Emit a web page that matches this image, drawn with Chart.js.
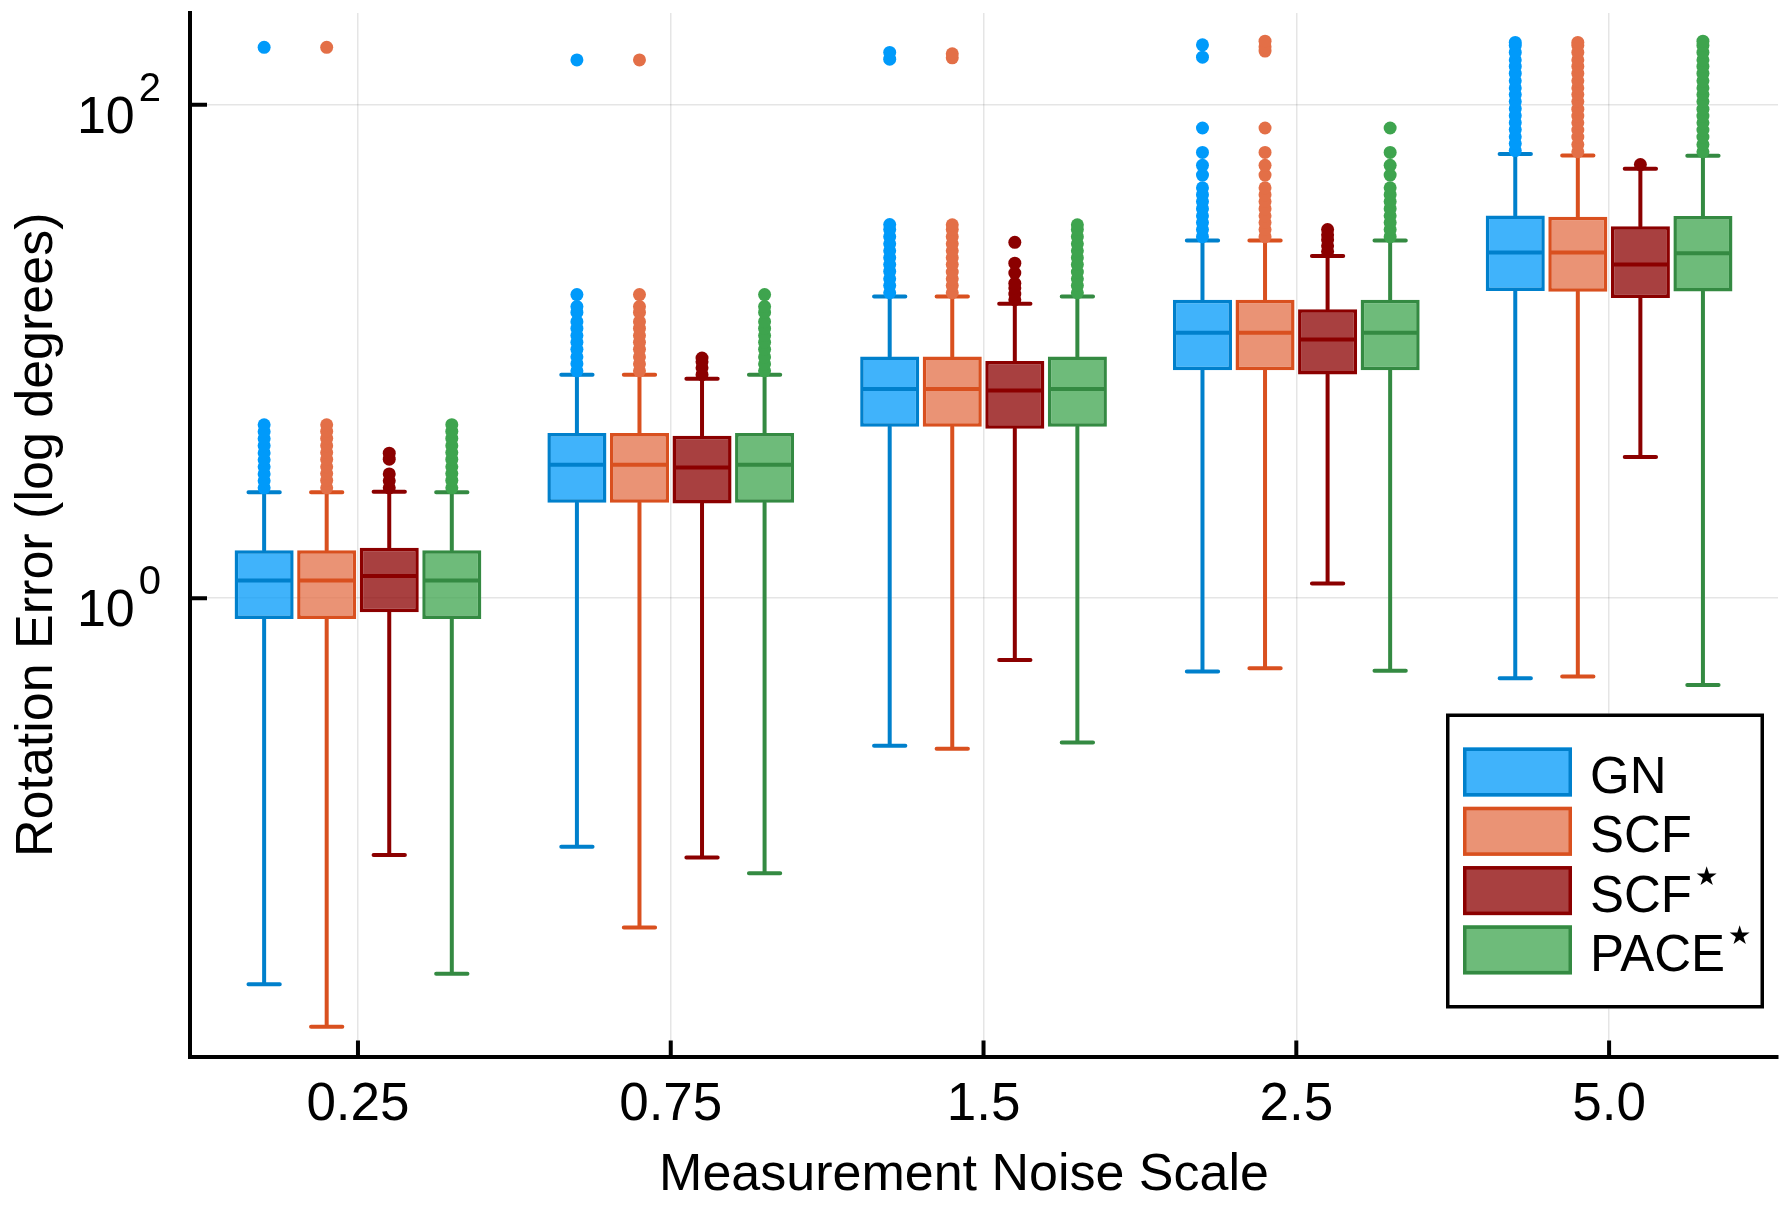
<!DOCTYPE html>
<html lang="en">
<head>
    <meta charset="UTF-8">
    <title>Rotation Error vs Measurement Noise Scale</title>
    <script src="https://cdn.jsdelivr.net/npm/chart.js@4.4.1/dist/chart.umd.min.js"></script>
    <style>
        body { margin: 0; background: #fff; }
        canvas { display: block; }
    </style>
</head>
<body>
    <canvas id="chartRotacion" width="1790" height="1208"></canvas>

    <script>
        // Categorias (eje x) y ticks del eje y
        const noiseScales = ['0.25', '0.75', '1.5', '2.5', '5.0'];
        const xPos = [1, 2, 3, 4, 5];
        const yTicks = [1, 100];
        const methodLabels = ['GN', 'SCF', 'SCF★', 'PACE★'];
        const xTitle = 'Measurement Noise Scale';

        // GN
        const gnLow  = [0.0272, 0.0983, 0.252, 0.504, 0.473];
        const gnQ1   = [0.824, 2.435, 4.95, 8.39, 17.58];
        const gnMed  = [1.18, 3.47, 7.05, 11.9, 25.2];
        const gnQ3   = [1.563, 4.67, 9.55, 16.2, 35.6];
        const gnHigh = [2.69, 8.05, 16.7, 28.2, 63.2];
        const gnOut = [
            [2.80, 2.99, 3.19, 3.41, 3.64, 3.88, 4.15, 4.43, 4.73, 5.04, 171],
            [8.35, 8.92, 9.52, 10.2, 10.9, 11.6, 12.4, 13.2, 14.4, 15.2, 17.0, 152],
            [17.3, 18.5, 19.7, 21.1, 22.5, 24.0, 25.6, 27.3, 29.2, 31.2, 32.7, 153, 163],
            [29.2, 31.2, 33.3, 35.5, 37.9, 40.5, 43.2, 46.1, 51.9, 56.8, 64.1, 80.5, 156, 175],
            [65.2, 69.6, 74.2, 79.3, 84.6, 90.3, 96.4, 103, 110, 117, 125, 134, 143, 152, 163, 174, 179]
        ];

        // SCF
        const scfLow  = [0.0183, 0.0462, 0.245, 0.52, 0.481];
        const scfQ1   = [0.824, 2.435, 4.95, 8.39, 17.46];
        const scfMed  = [1.18, 3.47, 7.05, 11.9, 25.2];
        const scfQ3   = [1.563, 4.67, 9.55, 16.2, 35.2];
        const scfHigh = [2.69, 8.05, 16.7, 28.2, 62.3];
        const scfOut = [
            [2.80, 3.00, 3.20, 3.41, 3.65, 3.89, 4.15, 4.44, 4.74, 5.04, 171],
            [8.35, 8.9, 9.5, 10.2, 10.9, 11.6, 12.4, 13.2, 14.4, 15.2, 17.0, 152],
            [17.3, 18.5, 19.7, 21.0, 22.5, 24.0, 25.6, 27.3, 29.2, 31.2, 32.6, 155, 161],
            [29.2, 31.2, 33.3, 35.5, 37.9, 40.5, 43.2, 46.1, 51.9, 56.8, 64.1, 80.5, 165, 172, 181],
            [64.5, 69, 74, 79, 84.5, 90, 96, 103, 110, 117, 125, 134, 143, 152, 163, 174, 179]
        ];

        // SCF*
        const scfsLow  = [0.091, 0.0888, 0.562, 1.147, 3.73];
        const scfsQ1   = [0.877, 2.42, 4.86, 8.07, 16.48];
        const scfsMed  = [1.231, 3.386, 6.95, 11.17, 22.5];
        const scfsQ3   = [1.599, 4.55, 9.15, 14.83, 32.2];
        const scfsHigh = [2.70, 7.75, 15.6, 24.4, 55.0];
        const scfsOut = [
            [2.80, 2.99, 3.19, 3.66, 3.87],
            [8.05, 8.59, 9.08, 9.40],
            [16.2, 17.1, 18.1, 18.9, 20.8, 22.8, 27.7],
            [25.4, 26.8, 28.4, 29.7, 31.2],
            [57.2]
        ];

        // PACE*
        const paceLow  = [0.030, 0.0768, 0.260, 0.508, 0.445];
        const paceQ1   = [0.824, 2.435, 4.95, 8.39, 17.5];
        const paceMed  = [1.18, 3.47, 7.05, 11.9, 25.0];
        const paceQ3   = [1.563, 4.67, 9.55, 16.2, 35.4];
        const paceHigh = [2.69, 8.05, 16.7, 28.2, 62.2];
        const paceOut = [
            [2.80, 3.00, 3.20, 3.41, 3.65, 3.89, 4.15, 4.44, 4.74, 5.05],
            [8.35, 8.9, 9.5, 10.2, 10.9, 11.6, 12.4, 13.2, 14.4, 15.2, 17.0],
            [17.3, 18.5, 19.7, 21.0, 22.5, 24.0, 25.6, 27.3, 29.2, 31.2, 32.6],
            [29.2, 31.2, 33.3, 35.5, 37.9, 40.5, 43.2, 46.1, 51.9, 56.8, 64.1, 80.5],
            [64.5, 69, 74, 79, 84.5, 90, 96, 103, 110, 117, 125, 134, 143, 152, 163, 174, 181]
        ];

        const lows  = [gnLow, scfLow, scfsLow, paceLow];
        const q1s   = [gnQ1, scfQ1, scfsQ1, paceQ1];
        const meds  = [gnMed, scfMed, scfsMed, paceMed];
        const q3s   = [gnQ3, scfQ3, scfsQ3, paceQ3];
        const highs = [gnHigh, scfHigh, scfsHigh, paceHigh];
        const outs  = [gnOut, scfOut, scfsOut, paceOut];

        const fillColors   = ['rgba(0,154,250,0.75)', 'rgba(227,111,71,0.75)', 'rgba(139,0,0,0.75)', 'rgba(62,164,78,0.75)'];
        const lineColors   = ['#0080cc', '#d9501f', '#8b0000', '#348a42'];
        const markerColors = ['#009afa', '#e36f47', '#8b0000', '#3ea44e'];

        const FONT = "'Liberation Sans', Arial, sans-serif";
        Chart.defaults.font.family = FONT;
        Chart.defaults.color = '#000';

        // Bigotes, medianas, atipicos, ticks hacia dentro, etiquetas y leyenda
        const boxExtras = {
            id: 'boxExtras',
            beforeDatasetsDraw(chart) {
                const ctx = chart.ctx, ys = chart.scales.y;
                chart.data.datasets.forEach((ds, k) => {
                    chart.getDatasetMeta(k).data.forEach((bar, i) => {
                        const capW = bar.width * 0.53;
                        const yl = ys.getPixelForValue(lows[k][i]);
                        const yh = ys.getPixelForValue(highs[k][i]);
                        const y1 = ys.getPixelForValue(q1s[k][i]);
                        const y3 = ys.getPixelForValue(q3s[k][i]);
                        ctx.save();
                        ctx.strokeStyle = lineColors[k];
                        ctx.lineWidth = 4;
                        ctx.lineCap = 'round';
                        ctx.beginPath();
                        ctx.moveTo(bar.x, y1); ctx.lineTo(bar.x, yl);
                        ctx.moveTo(bar.x, y3); ctx.lineTo(bar.x, yh);
                        ctx.moveTo(bar.x - capW / 2, yl); ctx.lineTo(bar.x + capW / 2, yl);
                        ctx.moveTo(bar.x - capW / 2, yh); ctx.lineTo(bar.x + capW / 2, yh);
                        ctx.stroke();
                        ctx.restore();
                    });
                });
            },
            afterDatasetsDraw(chart) {
                const ctx = chart.ctx, ys = chart.scales.y;
                chart.data.datasets.forEach((ds, k) => {
                    chart.getDatasetMeta(k).data.forEach((bar, i) => {
                        const ym = ys.getPixelForValue(meds[k][i]);
                        ctx.save();
                        ctx.strokeStyle = lineColors[k];
                        ctx.lineWidth = 4;
                        ctx.beginPath();
                        ctx.moveTo(bar.x - bar.width / 2 + 2, ym);
                        ctx.lineTo(bar.x + bar.width / 2 - 2, ym);
                        ctx.stroke();
                        ctx.fillStyle = markerColors[k];
                        outs[k][i].forEach(v => {
                            ctx.beginPath();
                            ctx.arc(bar.x, ys.getPixelForValue(v), 6.5, 0, Math.PI * 2);
                            ctx.fill();
                        });
                        ctx.restore();
                    });
                });
            },
            afterDraw(chart) {
                const ctx = chart.ctx, area = chart.chartArea;
                const xs = chart.scales.x, ys = chart.scales.y;
                ctx.save();
                // ticks hacia dentro
                ctx.strokeStyle = '#000';
                ctx.lineWidth = 4;
                ctx.beginPath();
                xPos.forEach(v => {
                    const px = xs.getPixelForValue(v);
                    ctx.moveTo(px, area.bottom); ctx.lineTo(px, area.bottom - 16);
                });
                yTicks.forEach(v => {
                    const py = ys.getPixelForValue(v);
                    ctx.moveTo(area.left, py); ctx.lineTo(area.left + 17, py);
                });
                ctx.stroke();

                // etiquetas 10^n
                ctx.fillStyle = '#000';
                yTicks.forEach(v => {
                    const py = ys.getPixelForValue(v);
                    const exp = String(Math.round(Math.log10(v)));
                    ctx.font = '40px ' + FONT;
                    const ew = ctx.measureText(exp).width;
                    const right = area.left - 29;
                    ctx.textAlign = 'left';
                    ctx.textBaseline = 'alphabetic';
                    ctx.fillText(exp, right - ew, py - 4);
                    ctx.font = '52px ' + FONT;
                    ctx.textAlign = 'right';
                    ctx.fillText('10', right - ew - 4, py + 28);
                });

                // titulo del eje x
                ctx.font = '52px ' + FONT;
                ctx.textAlign = 'center';
                ctx.textBaseline = 'alphabetic';
                ctx.fillText(xTitle, (area.left + area.right) / 2 - 20, area.bottom + 133);

                // leyenda
                const lw = 318, lh = 295;
                const lx = area.right - 14 - lw, ly = area.bottom - 48 - lh;
                ctx.fillStyle = '#fff';
                ctx.fillRect(lx, ly, lw, lh);
                ctx.lineWidth = 3.5;
                ctx.strokeStyle = '#000';
                ctx.strokeRect(lx + 1.75, ly + 1.75, lw - 3.5, lh - 3.5);
                chart.data.datasets.forEach((ds, k) => {
                    const sy = ly + 34 + k * 59.3;
                    const sx = lx + 17;
                    ctx.fillStyle = '#fff';
                    ctx.fillRect(sx, sy, 109, 49);
                    ctx.fillStyle = fillColors[k];
                    ctx.fillRect(sx, sy, 109, 49);
                    ctx.strokeStyle = lineColors[k];
                    ctx.lineWidth = 3.5;
                    ctx.strokeRect(sx + 1.75, sy + 1.75, 109 - 3.5, 49 - 3.5);
                    const star = ds.label.endsWith('★');
                    const txt = star ? ds.label.slice(0, -1) : ds.label;
                    ctx.fillStyle = '#000';
                    ctx.font = '51px ' + FONT;
                    ctx.textAlign = 'left';
                    ctx.textBaseline = 'alphabetic';
                    const base = sy + 45.5;
                    ctx.fillText(txt, lx + 144, base);
                    if (star) {
                        const tw = ctx.measureText(txt).width;
                        ctx.font = "26px 'DejaVu Sans', sans-serif";
                        ctx.fillText('★', lx + 144 + tw + 3, base - 27);
                    }
                });
                ctx.restore();
            }
        };

        new Chart(document.getElementById('chartRotacion'), {
            type: 'bar',
            data: {
                datasets: methodLabels.map((m, k) => ({
                    label: m,
                    data: xPos.map((x, i) => ({ x: x, y: [q1s[k][i], q3s[k][i]] })),
                    backgroundColor: fillColors[k],
                    borderColor: lineColors[k],
                    borderWidth: 3.5,
                    borderSkipped: false,
                    categoryPercentage: 0.8,
                    barPercentage: 0.944
                }))
            },
            options: {
                responsive: false,
                devicePixelRatio: 1,
                animation: false,
                layout: { padding: { top: 13, right: 12, bottom: 0, left: 0 } },
                plugins: {
                    legend: { display: false },
                    tooltip: { enabled: false }
                },
                scales: {
                    x: {
                        type: 'linear',
                        offset: false,
                        min: 0.463,
                        max: 5.54,
                        afterBuildTicks: axis => { axis.ticks = xPos.map(v => ({ value: v })); },
                        afterFit: axis => { axis.height = 151.5; },
                        grid: { offset: false, color: 'rgba(0,0,0,0.1)', lineWidth: 1.5, drawTicks: false },
                        border: { color: '#000', width: 4 },
                        ticks: {
                            padding: 17,
                            font: { size: 53 },
                            callback: v => noiseScales[xPos.indexOf(v)]
                        },
                        title: { display: false }
                    },
                    y: {
                        type: 'logarithmic',
                        min: 0.01387,
                        max: 235.5,
                        afterBuildTicks: axis => { axis.ticks = yTicks.map(v => ({ value: v })); },
                        afterFit: axis => { axis.width = 190; },
                        grid: { color: 'rgba(0,0,0,0.1)', lineWidth: 1.5, drawTicks: false },
                        border: { color: '#000', width: 4 },
                        ticks: { display: false },
                        title: {
                            display: true,
                            text: 'Rotation Error (log degrees)',
                            font: { size: 52 },
                            padding: { top: 6, bottom: 0 }
                        }
                    }
                }
            },
            plugins: [boxExtras]
        });
    </script>
</body>
</html>
